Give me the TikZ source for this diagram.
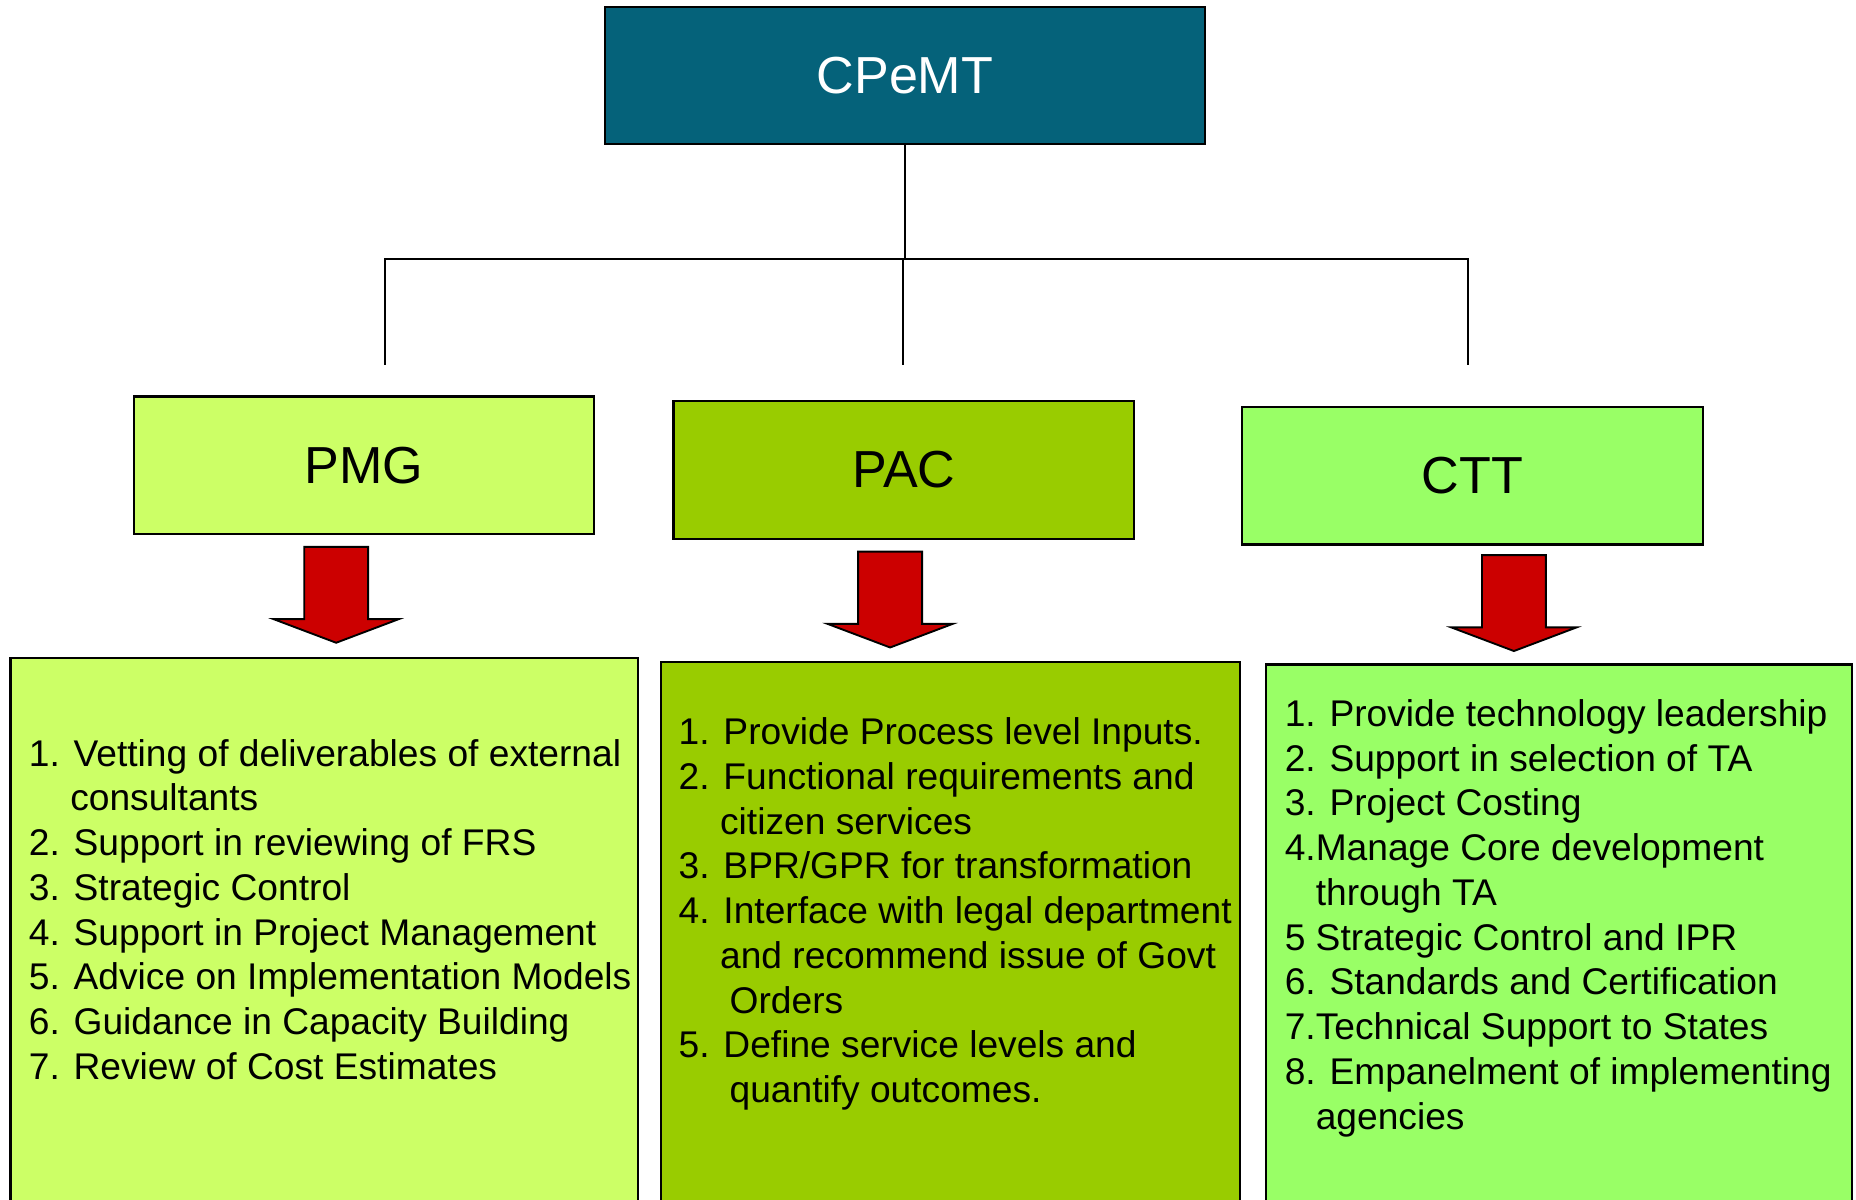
\documentclass[tikz,border=0pt]{standalone}
\usepackage{fontspec}
\setmainfont{Liberation Sans}

\definecolor{cpemtblue}{HTML}{05627A}
\definecolor{pmggreen}{HTML}{CCFF66}
\definecolor{pacgreen}{HTML}{99CC00}
\definecolor{cttgreen}{HTML}{99FF66}
\definecolor{arrowred}{HTML}{CC0000}

\begin{document}
\begin{tikzpicture}[x=0.5pt, y=-0.5pt,
    headbox/.style={draw=black, line width=0.9pt, inner sep=0pt,
        minimum width=194.5pt, minimum height=58pt,
        font=\fontsize{22}{26}\selectfont},
    listbox/.style={draw=black, line width=0.9pt, inner sep=0pt},
    items/.style={inner sep=0pt, align=left, anchor=north west,
        font=\fontsize{15.7}{18.9}\selectfont},
    connector/.style={black, line width=0.7pt},
    blockarrow/.style={draw=black, fill=arrowred, line width=0.8pt, line join=miter}]
        \useasboundingbox (0,0) rectangle (1568,1013);

            \coordinate (junction) at (764.5,219);
            \coordinate (pmgdrop) at (325,308);
            \coordinate (pacdrop) at (763,308);
            \coordinate (cttdrop) at (1240,308);

      % top and second row
      \node [headbox, fill=cpemtblue, text=white, minimum width=253.5pt] (cpemt) at (764.5,64) {CPeMT};
      \node [headbox, fill=pmggreen] (pmg) at (307.5,393) {PMG};
      \node [headbox, fill=pacgreen] (pac) at (763.5,397) {PAC};
      \node [headbox, fill=cttgreen] (ctt) at (1244,402) {CTT};

      \draw [connector] (cpemt.south) -- (junction);
      \draw [connector] (pmgdrop) -- (pmgdrop |- junction) -- (cttdrop |- junction) -- (cttdrop);
      \draw [connector] (pacdrop |- junction) -- (pacdrop);

      % red arrows
      \foreach \x/\y in {284/462, 752/466, 1279/469}
        \draw [blockarrow] (\x-27,\y) -- (\x+27,\y) -- (\x+27,\y+61) -- (\x+53,\y+61)
            -- (\x,\y+81) -- (\x-53,\y+61) -- (\x-27,\y+61) -- cycle;

      % task lists
      \node [listbox, fill=pmggreen, minimum width=265pt, minimum height=240pt, anchor=north west] (pmglist) at (8,555) {};
      \node [listbox, fill=pacgreen, minimum width=244.5pt, minimum height=240pt, anchor=north west] (paclist) at (557.5,558) {};
      \node [listbox, fill=cttgreen, minimum width=247.5pt, minimum height=240pt, anchor=north west] (cttlist) at (1068.5,560.5) {};

      \node [items] (pmgitems) at (24,624) {1. Vetting of deliverables of external\\
        \hspace*{17.5pt}consultants\\
        2. Support in reviewing of FRS\\
        3. Strategic Control\\
        4. Support in Project Management\\
        5. Advice on Implementation Models\\
        6. Guidance in Capacity Building\\
        7. Review of Cost Estimates};

      \node [items] (pacitems) at (573,606) {1. Provide Process level Inputs.\\
        2. Functional requirements and\\
        \hspace*{17.5pt}citizen services\\
        3. BPR/GPR for transformation\\
        4. Interface with legal department\\
        \hspace*{17.5pt}and recommend issue of Govt\\
        \hspace*{21.5pt}Orders\\
        5. Define service levels and\\
        \hspace*{21.5pt}quantify outcomes.};

      \node [items] (cttitems) at (1085,590.5) {1. Provide technology leadership\\
        2. Support in selection of TA\\
        3. Project Costing\\
        4.Manage Core development\\
        \hspace*{13.1pt}through TA\\
        5 Strategic Control and IPR\\
        6. Standards and Certification\\
        7.Technical Support to States\\
        8. Empanelment of implementing\\
        \hspace*{13.1pt}agencies};

      \end{tikzpicture}
\end{document}
